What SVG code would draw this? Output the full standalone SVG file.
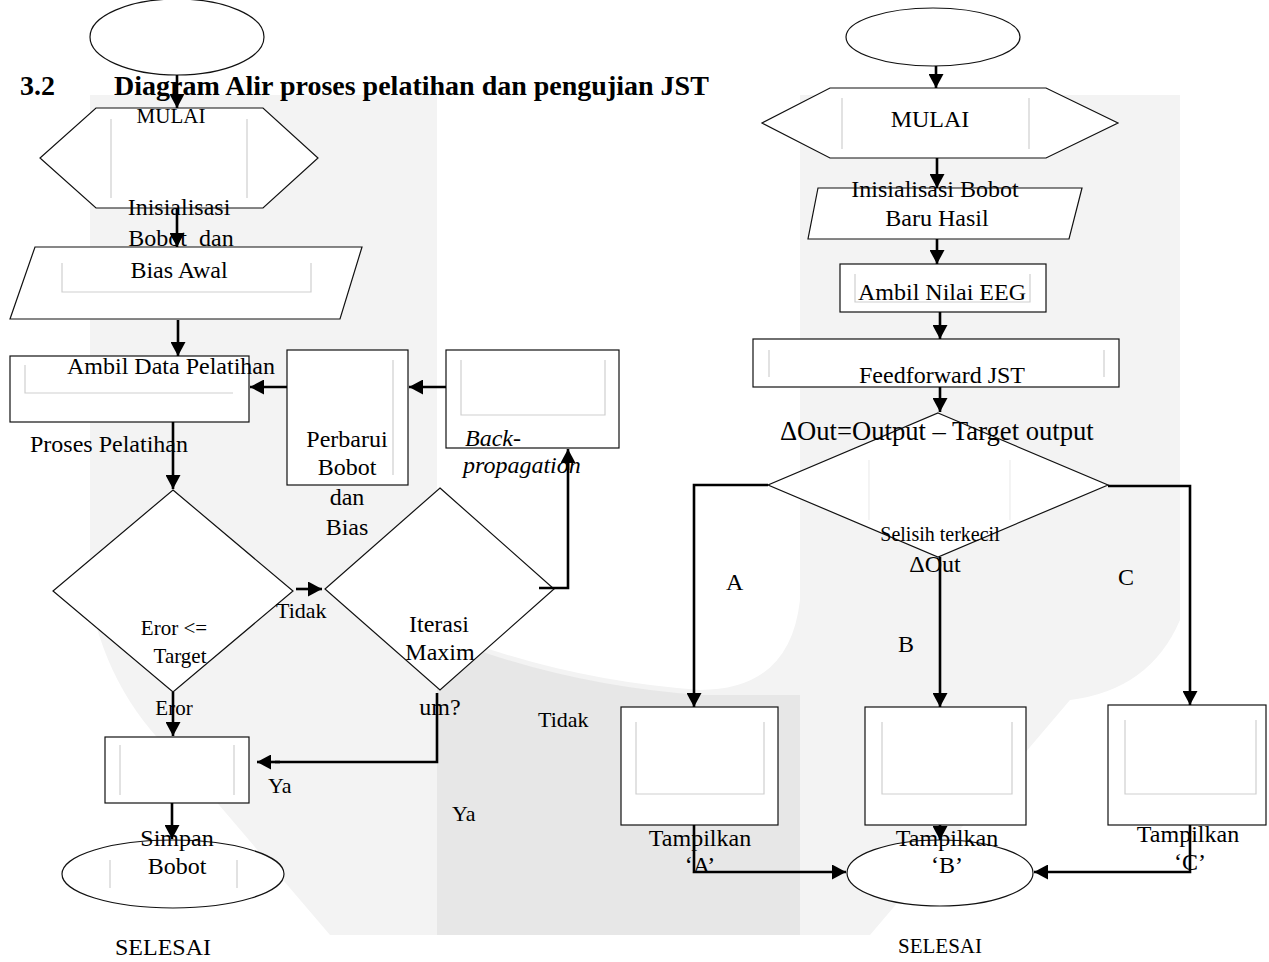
<svg xmlns="http://www.w3.org/2000/svg" width="1269" height="962" viewBox="0 0 1269 962">
<style>
text{font-family:"Liberation Serif","Times New Roman",serif;fill:#000;}
.t{font-size:24px;}
.s{font-size:21px;}
.m{text-anchor:middle;}
.i{font-style:italic;}
.sh{fill:#fff;stroke:#111;stroke-width:1.2;}
.in{fill:none;stroke:#cfcfcf;stroke-width:1.2;}
.c{fill:none;stroke:#000;stroke-width:2.6;}
.ca{fill:none;stroke:#000;stroke-width:2.6;marker-end:url(#ah);}
</style>
<defs>
<marker id="ah" markerUnits="userSpaceOnUse" markerWidth="15" markerHeight="15" refX="14" refY="7.5" orient="auto">
<path d="M0,0 L14,7.5 L0,15 Z" fill="#000"/>
</marker>
</defs>
<rect width="1269" height="962" fill="#fff"/>
<g id="watermark">
<path fill="#f3f3f3" fill-rule="evenodd" d="M90,95 H1180 V620 Q1150,690 1070,700 L870,935 H330 L185,765 Q110,700 90,600 Z M437,95 H800 V600 Q790,690 700,690 Q560,680 437,630 Z"/>
<path fill="#e7e7e7" d="M437,635 Q560,685 700,695 L800,695 V935 H437 Z"/>
</g>
<text x="20" y="95" style="font-weight:bold;font-size:28px">3.2</text>
<text x="114" y="95" style="font-weight:bold;font-size:28px">Diagram Alir proses pelatihan dan pengujian JST</text>

<g id="start-left">
<ellipse class="sh" cx="177" cy="37" rx="87" ry="38"/>
</g>
<g id="mulai-left">
<polygon class="sh" points="96,108 263,108 318,158 263,208 96,208 40,158"/>
<line class="in" x1="111" y1="119" x2="111" y2="198"/>
<line class="in" x1="247" y1="119" x2="247" y2="198"/>
<text class="m" x="171" y="123" style="font-size:21px">MULAI</text>
</g>
<g id="init-left">
<polygon class="sh" points="35,247 362,247 340,319 10,319"/>
<polyline class="in" points="62,263 62,292 311,292 311,263"/>
<text class="t m" x="179" y="215">Inisialisasi</text>
<text class="t m" x="181" y="246">Bobot&#160; dan</text>
<text class="t m" x="179" y="278">Bias Awal</text>
</g>
<g id="ambil-data">
<rect class="sh" x="10" y="356" width="239" height="66"/>
<polyline class="in" points="25,365 25,393 233,393"/>
<text class="t" x="67" y="374">Ambil Data Pelatihan</text>
</g>
<text class="t" x="30" y="452">Proses Pelatihan</text>
<g id="perbarui">
<rect class="sh" x="287" y="350" width="121" height="135"/>
<line class="in" x1="393" y1="360" x2="393" y2="475"/>
<text class="t m" x="347" y="447">Perbarui</text>
<text class="t m" x="347" y="475">Bobot</text>
<text class="t m" x="347" y="505">dan</text>
<text class="t m" x="347" y="535">Bias</text>
</g>
<g id="backprop">
<rect class="sh" x="446" y="350" width="173" height="98"/>
<polyline class="in" points="461,360 461,415 605,415 605,360"/>
<text class="t i" x="465" y="446">Back-</text>
<text class="t i" x="463" y="473">propagation</text>
</g>
<g id="cek-eror">
<polygon class="sh" points="173,490 293,591 173,692 53,591"/>
<text class="s m" x="174" y="635">Eror &lt;=</text>
<text class="s m" x="180" y="663">Target</text>
</g>
<text x="276" y="618" style="font-size:22px">Tidak</text>
<text class="s m" x="174" y="715">Eror</text>
<g id="iterasi">
<polygon class="sh" points="440,488 554,589 440,690 325,589"/>
<text class="t m" x="439" y="632">Iterasi</text>
<text class="t m" x="440" y="660">Maxim</text>
<text class="t m" x="440" y="715">um?</text>
</g>
<text x="538" y="727" style="font-size:22px">Tidak</text>
<text x="268" y="793" style="font-size:22px">Ya</text>
<text x="452" y="821" style="font-size:22px">Ya</text>
<g id="simpan">
<rect class="sh" x="105" y="737" width="144" height="66"/>
<line class="in" x1="120" y1="745" x2="120" y2="795"/>
<line class="in" x1="234" y1="745" x2="234" y2="795"/>
</g>
<g id="selesai-left">
<ellipse class="sh" cx="173" cy="874" rx="111" ry="34"/>
<line class="in" x1="110" y1="860" x2="110" y2="888"/>
<line class="in" x1="237" y1="860" x2="237" y2="888"/>
<text class="t m" x="177" y="846">Simpan</text>
<text class="t m" x="177" y="874">Bobot</text>
</g>
<text class="t" x="115" y="955">SELESAI</text>

<g id="start-right">
<ellipse class="sh" cx="933" cy="37" rx="87" ry="29"/>
</g>
<g id="mulai-right">
<polygon class="sh" points="830,88 1046,88 1118,123 1046,158 830,158 762,123"/>
<line class="in" x1="842" y1="98" x2="842" y2="149"/>
<line class="in" x1="1029" y1="98" x2="1029" y2="149"/>
<text class="t m" x="930" y="127">MULAI</text>
</g>
<g id="init-right">
<polygon class="sh" points="818,188 1082,188 1069,239 808,239"/>
<text class="t m" x="935" y="197">Inisialisasi Bobot</text>
<text class="t m" x="937" y="226">Baru Hasil</text>
</g>
<g id="ambil-eeg">
<rect class="sh" x="840" y="264" width="206" height="48"/>
<polyline class="in" points="855,274 855,302 1030,302 1030,274"/>
<text class="t m" x="942" y="300">Ambil Nilai EEG</text>
</g>
<g id="feedforward">
<rect class="sh" x="753" y="339" width="366" height="48"/>
<line class="in" x1="769" y1="350" x2="769" y2="377"/>
<line class="in" x1="1104" y1="350" x2="1104" y2="377"/>
<text class="t m" x="942" y="383">Feedforward JST</text>
</g>
<g id="selisih">
<polygon class="sh" points="938,413 1108,485 938,557 768,485"/>
<line class="in" x1="869" y1="460" x2="869" y2="520" style="stroke:#ececec"/>
<line class="in" x1="1010" y1="460" x2="1010" y2="520" style="stroke:#ececec"/>
<text class="m" x="940" y="541" style="font-size:20px">Selisih terkecil</text>
<text class="t m" x="935" y="572">ΔOut</text>
</g>
<text x="780" y="440" style="font-size:26.6px">ΔOut=Output – Target output</text>
<text class="t" x="726" y="590">A</text>
<text class="t" x="898" y="652">B</text>
<text class="t" x="1118" y="585">C</text>
<g id="selesai-right">
<ellipse class="sh" cx="940" cy="873" rx="93" ry="33"/>
</g>
<g id="tampil-a">
<rect class="sh" x="621" y="707" width="157" height="118"/>
<polyline class="in" points="636,722 636,794 764,794 764,722"/>
<text class="t m" x="700" y="846">Tampilkan</text>
<text class="t m" x="700" y="873">‘A’</text>
</g>
<g id="tampil-b">
<rect class="sh" x="865" y="707" width="161" height="118"/>
<polyline class="in" points="882,722 882,794 1012,794 1012,722"/>
<text class="t m" x="947" y="846">Tampilkan</text>
<text class="t m" x="947" y="873">‘B’</text>
</g>
<g id="tampil-c">
<rect class="sh" x="1108" y="705" width="158" height="120"/>
<polyline class="in" points="1125,720 1125,794 1256,794 1256,720"/>
<text class="t m" x="1188" y="842">Tampilkan</text>
<text class="t m" x="1190" y="870">‘C’</text>
</g>
<text class="s m" x="940" y="953">SELESAI</text>

<g id="connectors">
<line class="ca" x1="177" y1="75" x2="177" y2="108"/>
<line class="ca" x1="177" y1="208" x2="177" y2="247"/>
<line class="ca" x1="178" y1="320" x2="178" y2="356"/>
<line class="ca" x1="173" y1="422" x2="173" y2="489"/>
<line class="ca" x1="296" y1="589" x2="322" y2="589"/>
<polyline class="c" points="539,588 568,588 568,460"/>
<line class="ca" x1="568" y1="470" x2="568" y2="449"/>
<line class="ca" x1="446" y1="387" x2="409" y2="387"/>
<line class="ca" x1="287" y1="387" x2="250" y2="387"/>
<line class="ca" x1="173" y1="692" x2="173" y2="736"/>
<polyline class="c" points="437,693 437,762 275,762"/>
<line class="ca" x1="280" y1="762" x2="257" y2="762"/>
<line class="ca" x1="172" y1="803" x2="172" y2="839"/>
<line class="ca" x1="936" y1="66" x2="936" y2="88"/>
<line class="ca" x1="937" y1="158" x2="937" y2="188"/>
<line class="ca" x1="937" y1="239" x2="937" y2="264"/>
<line class="ca" x1="940" y1="312" x2="940" y2="339"/>
<line class="ca" x1="940" y1="387" x2="940" y2="412"/>
<polyline class="ca" points="768,485 694,485 694,707"/>
<line class="ca" x1="940" y1="557" x2="940" y2="707"/>
<polyline class="ca" points="1108,486 1190,486 1190,705"/>
<polyline class="ca" points="694,825 694,872 846,872"/>
<line class="ca" x1="940" y1="825" x2="940" y2="840"/>
<polyline class="ca" points="1190,825 1190,872 1034,872"/>
</g>
</svg>
